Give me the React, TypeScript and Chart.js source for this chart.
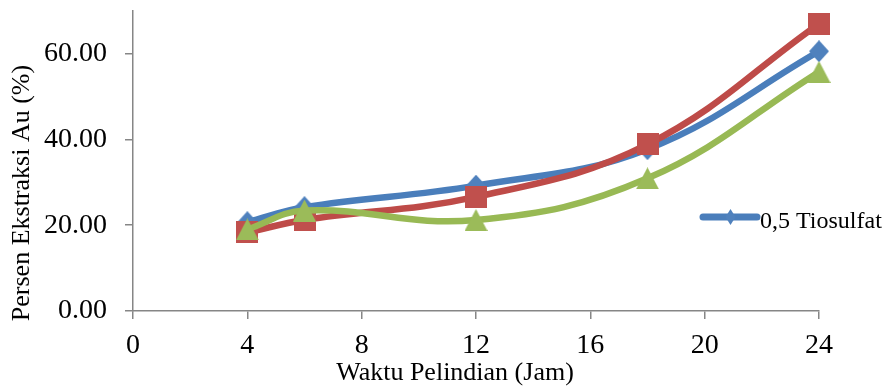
import React, { useEffect, useRef } from "react";
import { Chart, registerables } from "chart.js";

Chart.register(...registerables);

// ---- data ----
const hours = [4, 6, 12, 18, 24];
const tiosulfat05 = [20.7, 24.2, 29.2, 37.7, 60.5];
const seriesRed = [18.3, 21.2, 26.6, 38.8, 66.9];
const seriesGreen = [19.0, 23.4, 21.2, 30.9, 55.7];
const xTickValues = [0, 4, 8, 12, 16, 20, 24];
const yTickValues = [0, 20, 40, 60];
const legendLabel = "0,5 Tiosulfat";
const xTitle = "Waktu Pelindian (Jam)";
const yTitle = "Persen Ekstraksi Au (%)";

const FONT = '"Liberation Serif", "Times New Roman", serif';
const AXIS = "#868686";

function makeMarker(kind: string, color: string, w: number, h: number) {
  const c = document.createElement("canvas");
  c.width = w;
  c.height = h;
  const g = c.getContext("2d")!;
  g.fillStyle = color;
  g.beginPath();
  if (kind === "diamond") {
    g.moveTo(w / 2, 0);
    g.lineTo(w, h / 2);
    g.lineTo(w / 2, h);
    g.lineTo(0, h / 2);
  } else if (kind === "square") {
    g.rect(0, 0, w, h);
  } else {
    g.moveTo(w / 2, 0);
    g.lineTo(w, h);
    g.lineTo(0, h);
  }
  g.closePath();
  g.fill();
  return c;
}

export default function App() {
  const ref = useRef<HTMLCanvasElement | null>(null);

  useEffect(() => {
    if (!ref.current) return;
    const blueM = makeMarker("diamond", "#4F81BD", 20, 22);
    const redM = makeMarker("square", "#C0504D", 22, 22);
    const greenM = makeMarker("triangle", "#9BBB59", 23, 22);

    const textPlugin = {
      id: "customText",
      afterDraw(chart: any) {
        const ctx = chart.ctx;
        ctx.save();
        // legend
        ctx.strokeStyle = "#4A7EBB";
        ctx.lineWidth = 7;
        ctx.lineCap = "round";
        ctx.beginPath();
        ctx.moveTo(703, 217);
        ctx.lineTo(757, 217);
        ctx.stroke();
        ctx.fillStyle = "#4F81BD";
        ctx.beginPath();
        ctx.moveTo(730.5, 209);
        ctx.lineTo(735.5, 217);
        ctx.lineTo(730.5, 225);
        ctx.lineTo(725.5, 217);
        ctx.closePath();
        ctx.fill();
        ctx.fillStyle = "#000";
        ctx.font = `24px ${FONT}`;
        ctx.textAlign = "left";
        ctx.textBaseline = "alphabetic";
        ctx.fillText(legendLabel, 760, 228);
        // axis titles
        ctx.font = `26px ${FONT}`;
        ctx.textAlign = "center";
        ctx.textBaseline = "middle";
        ctx.fillText(xTitle, 455, 373);
        ctx.translate(22, 193);
        ctx.rotate(-Math.PI / 2);
        ctx.fillText(yTitle, 0, 0);
        ctx.restore();
      },
    };

    const chart = new Chart(ref.current, {
      type: "line",
      data: {
        datasets: [
          {
            label: legendLabel,
            data: hours.map((h, i) => ({ x: h, y: tiosulfat05[i] })),
            borderColor: "#4A7EBB",
            backgroundColor: "#4F81BD",
            borderWidth: 6.5,
            tension: 0.4,
            pointStyle: blueM as any,
            order: 3,
          },
          {
            label: "Seri 2",
            data: hours.map((h, i) => ({ x: h, y: seriesRed[i] })),
            borderColor: "#BE4B48",
            backgroundColor: "#C0504D",
            borderWidth: 6.5,
            tension: 0.4,
            pointStyle: redM as any,
            order: 2,
          },
          {
            label: "Seri 3",
            data: hours.map((h, i) => ({ x: h, y: seriesGreen[i] })),
            borderColor: "#98B954",
            backgroundColor: "#9BBB59",
            borderWidth: 6.5,
            tension: 0.4,
            pointStyle: greenM as any,
            order: 1,
          },
        ],
      },
      options: {
        responsive: false,
        animation: false,
        devicePixelRatio: 1,
        clip: false as any,
        layout: { padding: { top: 10, right: 66, left: 0, bottom: 0 } },
        plugins: {
          legend: { display: false },
          tooltip: { enabled: false },
        },
        scales: {
          x: {
            type: "linear",
            min: 0,
            max: 24,
            afterBuildTicks: (s: any) => {
              s.ticks = xTickValues.map((v) => ({ value: v }));
            },
            afterFit: (s: any) => {
              s.height = 78;
              s.paddingLeft = 0;
              s.paddingRight = 0;
            },
            ticks: {
              color: "#000",
              font: { family: FONT, size: 28 },
              padding: 10,
              maxRotation: 0,
              autoSkip: false,
            },
            grid: {
              drawOnChartArea: false,
              drawTicks: true,
              tickLength: 8,
              color: AXIS,
              lineWidth: 1.5,
            },
            border: { color: AXIS, width: 1.5 },
          },
          y: {
            type: "linear",
            min: 0,
            max: 70,
            afterBuildTicks: (s: any) => {
              s.ticks = yTickValues.map((v) => ({ value: v }));
            },
            afterFit: (s: any) => {
              s.width = 133;
              s.paddingTop = 0;
              s.paddingBottom = 0;
            },
            ticks: {
              color: "#000",
              font: { family: FONT, size: 28 },
              padding: 18,
              callback: (v: any) => Number(v).toFixed(2),
            },
            grid: {
              drawOnChartArea: false,
              drawTicks: true,
              tickLength: 8,
              color: AXIS,
              lineWidth: 1.5,
            },
            border: { color: AXIS, width: 1.5 },
          },
        },
      },
      plugins: [textPlugin],
    });
    return () => chart.destroy();
  }, []);

  return (
    <div style={{ position: "absolute", left: 0, top: 0, width: 885, height: 389, background: "#fff" }}>
      <canvas ref={ref} width={885} height={389} style={{ display: "block" }} />
    </div>
  );
}
